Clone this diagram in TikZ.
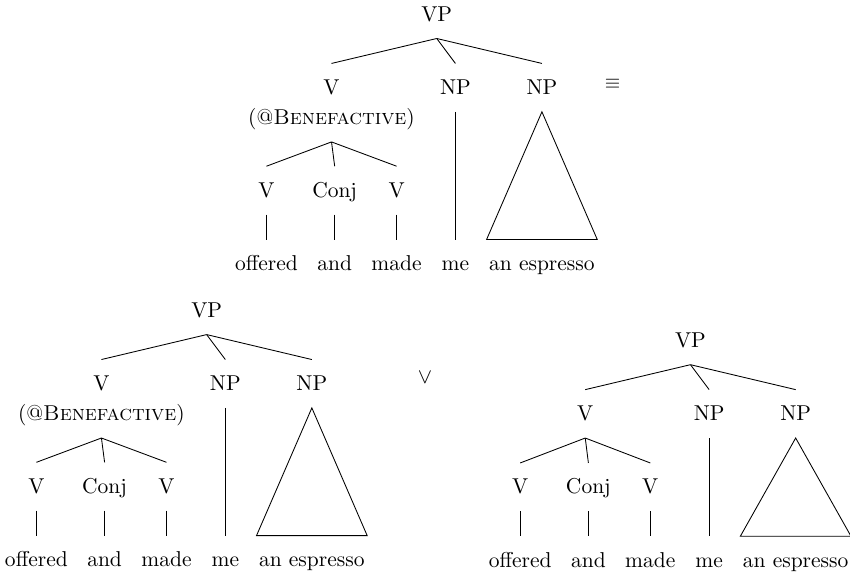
\documentclass[tikz,border=0pt]{standalone}
\usepackage{tikz-qtree}

\tikzset{
  every tree node/.style={anchor=north, inner xsep=1pt, inner ysep=3.3pt, text height=10.9pt, text depth=4.6pt},
  benlabel/.style={anchor=base, inner xsep=1pt, inner ysep=3.3pt, text depth=4.6pt},
  low/.style={yshift=-13.7pt},
  spacer/.style={minimum width=20pt}
}

\begin{document}
\begin{tikzpicture}[level distance=34.1pt, sibling distance=4.7pt,
  edge from parent path={(\tikzparentnode.south) -- (\tikzchildnode.north)}]
\useasboundingbox (0,0) rectangle (395.3pt,-267pt);

% upper tree
\begin{scope}[shift={(203.1pt,4.6pt)}]
\Tree [.\node(vp1){VP};
	[.\node(v1){V};
		\edge[draw=none]; [.\node[low](vo1){V}; \node[low](off1){offered}; ]
		\edge[draw=none]; [.\node[low](cj1){Conj}; \node[low](and1){and}; ]
		\edge[draw=none]; [.\node[low](vm1){V}; \node[low](made1){made}; ] ]
	[.\node(npm1){NP}; \edge[draw=none]; [.\node[low,spacer](gap1){}; \edge[draw=none]; \node[low](me1){me}; ] ]
	[.\node(npe1){NP}; \edge[draw=none]; [.\node[low](gapb1){}; \edge[draw=none]; \node[low](esp1){an espresso}; ] ] ]
\node[benlabel] (ben1) at ([yshift=-14pt]v1.base) {(@\textsc{Benefactive})};
\draw (ben1.south) -- (vo1.north) (ben1.south) -- (cj1.north) (ben1.south) -- (vm1.north);
\draw (npm1.south) -- (me1.north);
\draw (npe1.south) -- (esp1.north west) -- (esp1.north east) -- cycle;
\end{scope}
\node (eqv) at (284.9pt,-39.1pt) {\small$\equiv$};

% lower left tree
\begin{scope}[shift={(96.1pt,-133.1pt)}]
\Tree [.\node(vp2){VP};
	[.\node(v2){V};
		\edge[draw=none]; [.\node[low](vo2){V}; \node[low](off2){offered}; ]
		\edge[draw=none]; [.\node[low](cj2){Conj}; \node[low](and2){and}; ]
		\edge[draw=none]; [.\node[low](vm2){V}; \node[low](made2){made}; ] ]
	[.\node(npm2){NP}; \edge[draw=none]; [.\node[low,spacer](gap2){}; \edge[draw=none]; \node[low](me2){me}; ] ]
	[.\node(npe2){NP}; \edge[draw=none]; [.\node[low](gapb2){}; \edge[draw=none]; \node[low](esp2){an espresso}; ] ] ]
\node[benlabel] (ben2) at ([yshift=-14pt]v2.base) {(@\textsc{Benefactive})};
\draw (ben2.south) -- (vo2.north) (ben2.south) -- (cj2.north) (ben2.south) -- (vm2.north);
\draw (npm2.south) -- (me2.north);
\draw (npe2.south) -- (esp2.north west) -- (esp2.north east) -- cycle;
\end{scope}
\node (vel) at (197.7pt,-175.8pt) {$\vee$};

% lower right tree
\begin{scope}[shift={(321.1pt,-147.1pt)}]
\Tree [.\node(vp3){VP};
	[.\node(v3){V};
		[.\node(vo3){V}; \node(off3){offered}; ]
		[.\node(cj3){Conj}; \node(and3){and}; ]
		[.\node(vm3){V}; \node(made3){made}; ] ]
	[.\node(npm3){NP}; \edge[draw=none]; [.\node[spacer](gap3){}; \edge[draw=none]; \node(me3){me}; ] ]
	[.\node(npe3){NP}; \edge[draw=none]; [.\node(gapb3){}; \edge[draw=none]; \node(esp3){an espresso}; ] ] ]
\draw (npm3.south) -- (me3.north);
\draw (npe3.south) -- (esp3.north west) -- (esp3.north east) -- cycle;
\end{scope}
\end{tikzpicture}
\end{document}
